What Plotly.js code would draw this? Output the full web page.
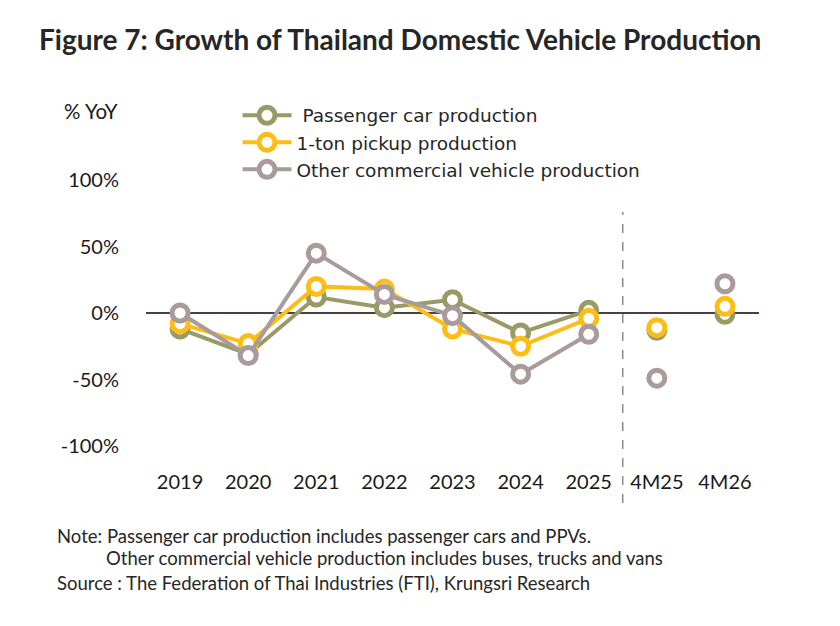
<!DOCTYPE html>
<html>
<head>
<meta charset="utf-8">
<script src="https://cdn.plot.ly/plotly-3.0.1.min.js"></script>
<style>html,body{margin:0;padding:0;background:#fff;}#chart{width:840px;height:626px;}</style>
</head>
<body>
<div id="chart"></div>
<script>
const categories = ['2019','2020','2021','2022','2023','2024','2025','4M25','4M26'];
const passenger = [-12, -31, 12, 4, 10, -15, 2, -13, -1];
const pickup = [-8, -23, 20, 18, -12, -25, -4, -11, 5];
const other = [0, -32, 45, 14, -2, -46, -16, -49, 22];
const seriesNames = ['\u00a0Passenger car production', '1-ton pickup production', 'Other commercial vehicle production'];
const colors = ['#9a9a68', '#fdbd17', '#a99a9b'];
const tickVals = [-100, -50, 0, 50, 100];
const tickText = ['-100%', '-50%', '0%', '50%', '100%'];

const FONT = 'Lato, "Open Sans", sans-serif';
const splitAt = 7;
const allSeries = [passenger, pickup, other];
const traces = [];
allSeries.forEach((vals, i) => {
  traces.push({
    type: 'scatter', mode: 'lines+markers', name: seriesNames[i],
    x: categories.slice(0, splitAt), y: vals.slice(0, splitAt),
    line: {color: colors[i], width: 4},
    marker: {symbol: 'circle', size: 16, color: '#ffffff', line: {color: colors[i], width: 5}},
    legendgroup: 'g' + i, showlegend: true, cliponaxis: false
  });
  traces.push({
    type: 'scatter', mode: 'markers', name: seriesNames[i],
    x: categories.slice(splitAt), y: vals.slice(splitAt),
    marker: {symbol: 'circle', size: 16, color: '#ffffff', line: {color: colors[i], width: 5}},
    legendgroup: 'g' + i, showlegend: false, cliponaxis: false
  });
});

const layout = {
  width: 840, height: 626,
  margin: {l: 146, r: 81, t: 180, b: 180},
  paper_bgcolor: '#ffffff', plot_bgcolor: '#ffffff',
  font: {family: FONT, color: '#1a1a1a'},
  title: {
    text: '<b>Figure 7: Growth of Thailand Domestic Vehicle Production</b>',
    font: {family: FONT, size: 28, color: '#262626'},
    xref: 'container', yref: 'container', x: 39/840, xanchor: 'left', y: 1 - 40/626, yanchor: 'middle'
  },
  xaxis: {
    type: 'category', range: [-0.5, 8.5], showgrid: false, showline: false, zeroline: false,
    ticks: 'outside', ticklen: 18, tickcolor: 'rgba(0,0,0,0)',
    tickfont: {family: FONT, size: 20, color: '#1a1a1a'}
  },
  yaxis: {
    range: [-100, 100], tickvals: tickVals, ticktext: tickText,
    showgrid: false, showline: false, zeroline: true, zerolinecolor: '#4d3f3f', zerolinewidth: 1.2,
    ticks: 'outside', ticklen: 22, tickcolor: 'rgba(0,0,0,0)',
    tickfont: {family: FONT, size: 20, color: '#1a1a1a'}
  },
  showlegend: true,
  legend: {
    x: 0.1493, xanchor: 'left', y: 1.313, yanchor: 'top',
    font: {family: '"DejaVu Sans", sans-serif', size: 18.5, color: '#262626'},
    itemwidth: 49, tracegroupgap: 0, bgcolor: 'rgba(0,0,0,0)'
  },
  shapes: [{
    type: 'line', xref: 'x', yref: 'paper', x0: 6.5, x1: 6.5, y0: -0.214, y1: 0.88,
    line: {color: '#857878', width: 1.3, dash: 'dash'}
  }],
  annotations: [
    {text: '% YoY', xref: 'paper', yref: 'paper', x: -0.042, xanchor: 'right', y: 1.259, yanchor: 'middle', showarrow: false, font: {family: FONT, size: 20.5, color: '#1a1a1a'}},
    {text: 'Note: Passenger car production includes passenger cars and PPVs.', xref: 'paper', yref: 'paper', x: (55-146)/613, xanchor: 'left', y: (446-536)/266, yanchor: 'middle', showarrow: false, font: {family: FONT, size: 18.5, color: '#262626'}},
    {text: 'Other commercial vehicle production includes buses, trucks and vans', xref: 'paper', yref: 'paper', x: (104-146)/613, xanchor: 'left', y: (446-558)/266, yanchor: 'middle', showarrow: false, font: {family: FONT, size: 18.5, color: '#262626'}},
    {text: 'Source : The Federation of Thai Industries (FTI), Krungsri Research', xref: 'paper', yref: 'paper', x: (55-146)/613, xanchor: 'left', y: (446-583)/266, yanchor: 'middle', showarrow: false, font: {family: FONT, size: 18.5, color: '#262626'}}
  ]
};

Plotly.newPlot('chart', traces, layout, {staticPlot: true, displayModeBar: false});
</script>
</body>
</html>
